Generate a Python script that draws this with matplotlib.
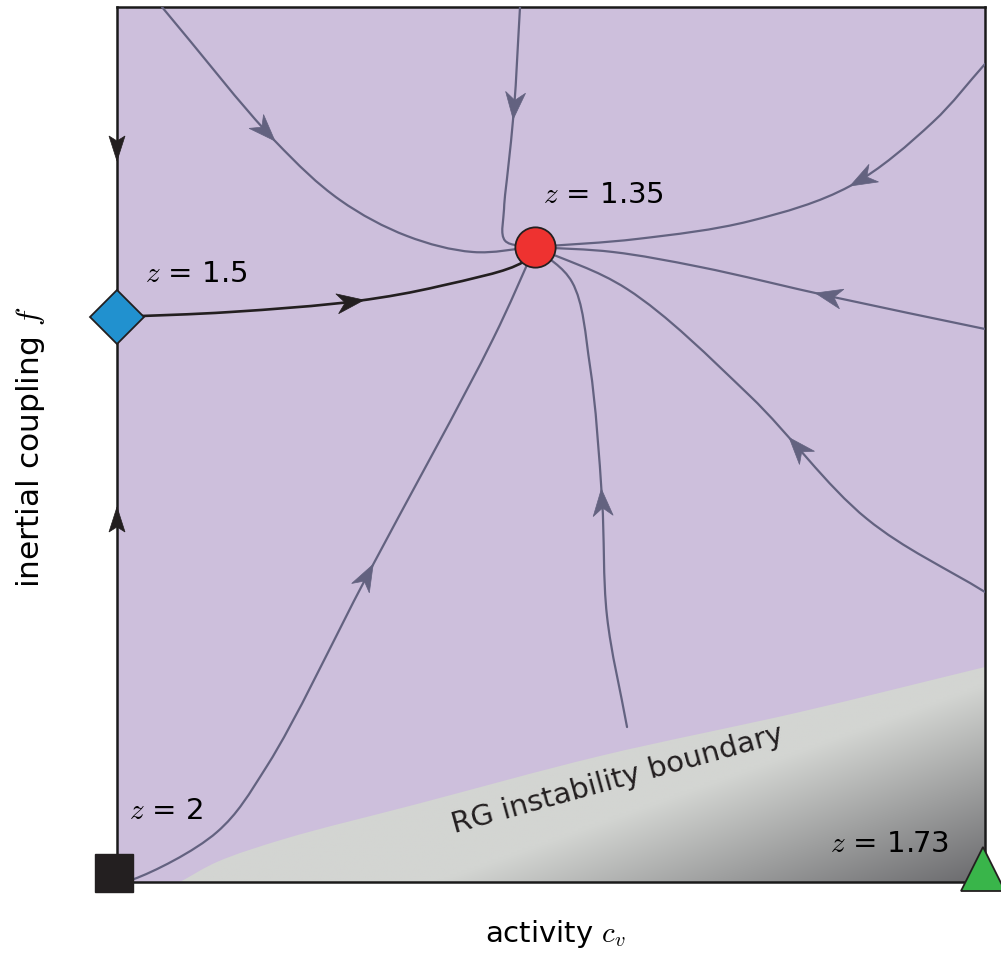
import numpy as np
import matplotlib
matplotlib.use("Agg")
import matplotlib.pyplot as plt
from matplotlib.path import Path
from matplotlib.patches import PathPatch, Polygon

plt.rcParams['font.family'] = ['DejaVu Sans']
plt.rcParams['mathtext.fontset'] = 'cm'

# ---------------- data (activity c_v , inertial coupling f) ----------------
fp_labels = ["$z$ = 2", "$z$ = 1.5", "$z$ = 1.35", "$z$ = 1.73"]
fp_x = [-0.003, 0.0, 0.4816, 0.998]
fp_y = [0.010, 0.646, 0.7257, 0.015]

flow1_x = [0.0518, 0.1820, 0.2569, 0.3341, 0.4101, 0.4816]
flow1_y = [1.0, 0.8469, 0.7794, 0.7383, 0.7200, 0.7257]

flow2_x = [0.4643, 0.4574, 0.4505, 0.4459, 0.4470, 0.4816]
flow2_y = [1.0, 0.8834, 0.8149, 0.7691, 0.7330, 0.7257]

flow3_x = [1.0, 0.9401, 0.8445, 0.7293, 0.6000, 0.4816]
flow3_y = [0.9349, 0.8686, 0.7954, 0.7554, 0.7350, 0.7257]

flow4_x = [1.0, 0.8249, 0.6717, 0.5714, 0.4816]
flow4_y = [0.632, 0.6686, 0.7029, 0.7200, 0.7257]

flow5_x = [1.0, 0.8641, 0.7293, 0.5876, 0.4816]
flow5_y = [0.3314, 0.4149, 0.5554, 0.6777, 0.7257]

flow6_x = [0.5876, 0.5645, 0.5588, 0.5449, 0.5242, 0.4816]
flow6_y = [0.1771, 0.3040, 0.4377, 0.5897, 0.6857, 0.7257]

flow7_x = [0.0, 0.0196, 0.1152, 0.1728, 0.2880, 0.4332, 0.4816]
flow7_y = [0.0, 0.0034, 0.0571, 0.1326, 0.3497, 0.6206, 0.7257]

sep_x = [0.0, 0.1302, 0.2765, 0.3721, 0.4677, 0.4816]
sep_y = [0.6457, 0.6514, 0.6640, 0.6811, 0.7086, 0.7257]

boundary_x = [0.0726, 0.1152, 0.1924, 0.3456, 0.5565, 0.7869, 1.0]
boundary_y = [0.0, 0.0229, 0.0491, 0.0891, 0.1440, 0.1943, 0.2457]

arrow_x = [0.1820, 0.4562, 0.8422, 0.8041, 0.7696, 0.5565, 0.2903, 0.2857]
arrow_y = [0.8469, 0.8720, 0.7977, 0.6720, 0.5063, 0.4491, 0.3623, 0.6640]
spine_arrow_y = [0.824, 0.4286]
spine_arrow_dir = [-1, 1]

# ---------------- layout ----------------
W, H = 1001, 954
L, R, T, B = 117, 985, 8, 883
SX, SY = R - L, B - T

fig = plt.figure(figsize=(W / 100, H / 100), dpi=100)
ax = fig.add_axes([L / W, (H - B) / H, SX / W, SY / H])
ax.set_xlim(0, 1)
ax.set_ylim(0, 1)
ax.set_xticks([])
ax.set_yticks([])
ax.set_facecolor('#cdbfdc')
for s in ax.spines.values():
    s.set_linewidth(1.8)
    s.set_color('#1a1a1a')
    s.set_zorder(2.5)

LINE = '#636280'


def cr_path(xs, ys, alpha=0.5):
    """Centripetal Catmull-Rom through the points, as cubic Bezier segments."""
    P = np.column_stack([np.asarray(xs) * SX, np.asarray(ys) * SY])
    P = np.vstack([2 * P[0] - P[1], P, 2 * P[-1] - P[-2]])
    n = len(P)
    verts = [P[1]]
    codes = [Path.MOVETO]
    samples = [P[1]]
    t = np.linspace(0, 1, 40)[1:, None]
    for i in range(1, n - 2):
        p0, p1, p2, p3 = P[i - 1], P[i], P[i + 1], P[i + 2]
        d0 = max(np.hypot(*(p1 - p0)) ** alpha, 1e-6)
        d1 = max(np.hypot(*(p2 - p1)) ** alpha, 1e-6)
        d2 = max(np.hypot(*(p3 - p2)) ** alpha, 1e-6)
        T1 = d1 * ((p1 - p0) / d0 - (p2 - p0) / (d0 + d1) + (p2 - p1) / d1)
        T2 = d1 * ((p2 - p1) / d1 - (p3 - p1) / (d1 + d2) + (p3 - p2) / d2)
        c1 = p1 + T1 / 3
        c2 = p2 - T2 / 3
        verts += [c1, c2, p2]
        codes += [Path.CURVE4] * 3
        pts = ((1 - t) ** 3) * p1 + 3 * ((1 - t) ** 2) * t * c1 + 3 * (1 - t) * t ** 2 * c2 + t ** 3 * p2
        samples.extend(list(pts))
    verts = np.array(verts) / [SX, SY]
    return Path(verts, codes), np.array(samples)


def arrowhead(tip_px, d, color, Lh=27, Wh=10, notch=8):
    d = np.asarray(d, float)
    d = d / np.hypot(*d)
    nrm = np.array([-d[1], d[0]])
    tip = np.asarray(tip_px, float)
    pts = [tip,
           tip - Lh * d + Wh * nrm,
           tip - (Lh - notch) * d,
           tip - Lh * d - Wh * nrm]
    pts = np.array(pts) / [SX, SY]
    ax.add_patch(Polygon(pts, closed=True, facecolor=color, edgecolor=color,
                         lw=0.5, zorder=4, clip_on=False))


# ---------------- grey instability region with gradient ----------------
bpath, _ = cr_path(boundary_x, boundary_y)
bv = list(bpath.vertices) + [[1.0, 0.0], [boundary_x[0], 0.0], [boundary_x[0], 0.0]]
bc = list(bpath.codes) + [Path.LINETO, Path.LINETO, Path.CLOSEPOLY]
region = PathPatch(Path(bv, bc), facecolor='none', edgecolor='none', transform=ax.transData)
ax.add_patch(region)
gx, gy = np.meshgrid(np.linspace(0, 1, 400), np.linspace(0, 1, 400))
dk = np.clip((gx - 2.8 * gy - 0.37) / 0.63, 0, 1)
light = np.array([211, 213, 210]) / 255
dark = np.array([106, 106, 109]) / 255
img = light[None, None, :] * (1 - dk[..., None]) + dark[None, None, :] * dk[..., None]
im = ax.imshow(img, extent=(0, 1, 0, 1), origin='lower', aspect='auto',
               interpolation='bilinear', zorder=1)
im.set_clip_path(region)

# ---------------- flow lines ----------------
flows = [(flow1_x, flow1_y), (flow2_x, flow2_y), (flow3_x, flow3_y),
         (flow4_x, flow4_y), (flow5_x, flow5_y), (flow6_x, flow6_y),
         (flow7_x, flow7_y), (sep_x, sep_y)]
for k, (fx, fy) in enumerate(flows):
    col = '#231f20' if k == 7 else LINE
    lw = 1.9 if k == 7 else 1.6
    p, samp = cr_path(fx, fy)
    ax.add_patch(PathPatch(p, facecolor='none', edgecolor=col, lw=lw, zorder=3,
                           capstyle='round'))
    tip = np.array([arrow_x[k] * SX, arrow_y[k] * SY])
    j = int(np.argmin(np.hypot(*(samp - tip).T)))
    j = min(max(j, 2), len(samp) - 3)
    arrowhead(samp[j], samp[j + 2] - samp[j - 2], col)

for ya, dy in zip(spine_arrow_y, spine_arrow_dir):
    arrowhead([0.0, ya * SY], [0, dy], '#231f20', Lh=25, Wh=8, notch=5)

# ---------------- fixed points ----------------
ax.plot(fp_x[0], fp_y[0], marker='s', ms=27, color='#231f20', mec='#231f20',
        clip_on=False, zorder=6, ls='none')
ax.plot(fp_x[1], fp_y[1], marker='D', ms=28, color='#2191cf', mec='#231f20', mew=1.3,
        clip_on=False, zorder=6, ls='none')
ax.plot(fp_x[2], fp_y[2], marker='o', ms=29, color='#ee3230', mec='#231f20', mew=1.3,
        clip_on=False, zorder=6, ls='none')
ax.plot(fp_x[3], fp_y[3], marker='^', ms=31, color='#39b54a', mec='#231f20', mew=1.3,
        clip_on=False, zorder=6, ls='none')

# ---------------- labels ----------------
FS = 21
label_pos = [(0.0138, 0.0731), (0.0323, 0.6869), (0.4908, 0.7770), (0.8214, 0.0354)]
for lab, (lx, ly) in zip(fp_labels, label_pos):
    ax.text(lx, ly, lab, fontsize=FS, ha='left', va='baseline', zorder=7)

ax.text(0.5772, 0.1177, "RG instability boundary", fontsize=FS, rotation=15.5,
        rotation_mode='anchor', ha='center', va='center', zorder=7, color='#231f20')

ax.text(0.5046, -0.0674, "activity $c_v$", fontsize=FS, ha='center', va='baseline',
        transform=ax.transAxes)
ax.text(-0.1002, 0.498, "inertial coupling $f$", fontsize=22.5, ha='center', va='center',
        rotation=90, transform=ax.transAxes)

fig.savefig('out.png', dpi=100)
